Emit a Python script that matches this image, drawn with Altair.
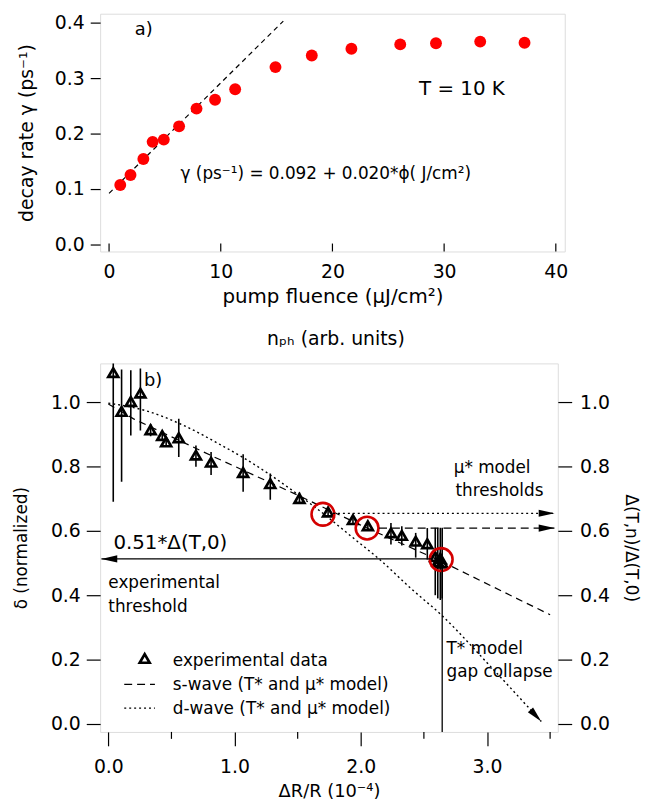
import altair as alt
import pandas as pd

FONT = "DejaVu Sans"

# ---------------- panel a : decay rate vs pump fluence ----------------
fluence = [1.0, 1.92, 3.07, 3.9, 4.9, 6.27, 7.83, 9.49, 11.29, 14.9, 18.15, 21.7, 26.07, 29.27, 33.23, 37.2]
decay_rate = [0.107, 0.125, 0.154, 0.185, 0.189, 0.213, 0.245, 0.261, 0.280, 0.320, 0.341, 0.353, 0.361, 0.363, 0.366, 0.364]
fit_fluence = [0.0, 15.6]
fit_rate = [0.092, 0.403]
a_x_ticks = [0, 10, 20, 30, 40]
a_y_ticks = [0.0, 0.1, 0.2, 0.3, 0.4]
a_text = ["a)", "T = 10 K", "γ (ps⁻¹) = 0.092 + 0.020*ϕ( J/cm²)"]
a_text_x = [2.3, 27.76, 6.4]
a_text_y = [0.3786, 0.2696, 0.118]
a_text_size = [18, 20, 17]

# ---------------- panel b : gap vs dR/R ----------------
dr = [0.039, 0.105, 0.178, 0.254, 0.335, 0.427, 0.458, 0.558, 0.694, 0.814, 1.068, 1.283,
      1.514, 1.741, 1.938, 2.056, 2.239, 2.325, 2.435, 2.527, 2.59, 2.61, 2.63, 2.645]
delta = [1.093, 0.972, 1.003, 1.029, 0.915, 0.897, 0.877, 0.890, 0.836, 0.814, 0.782, 0.747,
         0.701, 0.659, 0.635, 0.616, 0.594, 0.586, 0.568, 0.560, 0.52, 0.505, 0.515, 0.50]
err_top = [1.50, 1.103, 1.100, 1.106, 0.933, 0.91, 0.89, 0.949, 0.866, 0.846, 0.839, 0.779,
           0.72, 0.672, 0.648, 0.63, 0.625, 0.615, 0.594, 0.609, 0.61, 0.61, 0.61, 0.61]
err_bot = [0.691, 0.753, 0.897, 0.913, 0.895, 0.885, 0.865, 0.830, 0.800, 0.774, 0.722, 0.697,
           0.685, 0.648, 0.622, 0.60, 0.558, 0.555, 0.517, 0.511, 0.40, 0.39, 0.385, 0.39]
s_wave_x = [0.0, 0.2, 0.84, 1.47, 2.05, 2.64, 3.5]
s_wave_y = [0.995, 0.949, 0.830, 0.717, 0.609, 0.505, 0.339]
d_wave_x = [0.0, 0.3, 0.6, 0.89, 1.07, 1.3, 1.49, 1.70, 1.95, 2.15, 2.4, 2.645, 3.0, 3.43]
d_wave_y = [0.998, 0.974, 0.928, 0.868, 0.828, 0.770, 0.717, 0.655, 0.575, 0.511, 0.420, 0.336, 0.19, 0.007]
circle_x = [1.70, 2.05, 2.637]
circle_y = [0.652, 0.609, 0.511]
thr_x1 = [1.78, 2.145, 2.57]
thr_x2 = [3.535, 3.535, -0.055]
thr_y = [0.655, 0.609, 0.513]
thr_style = ["dotted", "dashed", "solid"]
collapse_x = [2.645]
collapse_y = [0.51]
head_x = [3.535, 3.535, -0.055, 3.43]
head_y = [0.655, 0.609, 0.513, 0.007]
head_angle = [0, 0, 180, 47]
b_x_ticks = [0, 1, 2, 3]
b_minor_ticks = [0.5, 1.5, 2.5, 3.5]
b_y_ticks = [0.0, 0.2, 0.4, 0.6, 0.8, 1.0]
b_text = ["b)", "0.51*Δ(T,0)", "experimental", "threshold", "μ* model", "thresholds",
          "T* model", "gap collapse", "experimental data", "s-wave (T* and μ* model)",
          "d-wave (T* and μ* model)"]
b_text_x = [0.283, 0.04, 0.0, 0.0, 2.736, 2.75, 2.679, 2.679, 0.511, 0.511, 0.511]
b_text_y = [1.0515, 0.5423, 0.424, 0.349, 0.779, 0.709, 0.218, 0.146, 0.180, 0.105, 0.030]
b_text_size = [18, 20, 17, 17, 17, 17, 17, 17, 17, 17, 17]
leg_marker_x = [0.288]
leg_marker_y = [0.203]
leg_line_x1 = [0.126, 0.126]
leg_line_x2 = [0.369, 0.369]
leg_line_y = [0.1225, 0.0485]
leg_line_style = ["dashed", "dotted"]

# ---------------- sizes ----------------
WA, HA = 469, 240
WB, HB = 462, 372

axis_common = dict(domain=False, grid=False, tickColor="black", labelColor="black",
                   titleColor="black", labelFont=FONT, titleFont=FONT,
                   titleFontWeight="normal", tickWidth=1.2)

# ================= panel a =================
xa_scale = alt.Scale(domain=[-0.8, 40.8], nice=False, zero=False)
ya_scale = alt.Scale(domain=[-0.013, 0.4164], nice=False, zero=False)

df_a = pd.DataFrame({"x": fluence, "y": decay_rate})
df_fit = pd.DataFrame({"x": fit_fluence, "y": fit_rate})
df_atick = pd.DataFrame({"x": a_x_ticks})
df_atext = pd.DataFrame({"x": a_text_x, "y": a_text_y, "t": a_text, "s": a_text_size})

pts_a = alt.Chart(df_a).mark_circle(size=144, color="#ff0000", opacity=1).encode(
    x=alt.X("x:Q", scale=xa_scale, axis=alt.Axis(
        values=a_x_ticks, format="d", ticks=False, tickSize=0, labelPadding=11,
        labelFontSize=19, title="pump fluence (μJ/cm²)", titleFontSize=20, titlePadding=6,
        **axis_common)),
    y=alt.Y("y:Q", scale=ya_scale, axis=alt.Axis(
        values=a_y_ticks, format=".1f", tickSize=10, labelPadding=6, labelFontSize=19,
        title="decay rate γ (ps⁻¹)", titleFontSize=19, titlePadding=18, **axis_common)),
)
fit_a = alt.Chart(df_fit).mark_line(color="black", strokeDash=[5, 4], strokeWidth=1.2).encode(
    x=alt.X("x:Q", scale=xa_scale, axis=None),
    y=alt.Y("y:Q", scale=ya_scale, axis=None),
)
ticks_a = alt.Chart(df_atick).mark_rule(color="black", strokeWidth=1.2).encode(
    x=alt.X("x:Q", scale=xa_scale, axis=None),
    y=alt.value(HA), y2=alt.value(HA - 8),
)
text_a = alt.Chart(df_atext).mark_text(align="left", baseline="alphabetic", font=FONT,
                                       color="black").encode(
    x=alt.X("x:Q", scale=xa_scale, axis=None),
    y=alt.Y("y:Q", scale=ya_scale, axis=None),
    text="t:N",
    size=alt.Size("s:Q", scale=None),
)
panel_a = alt.layer(fit_a, pts_a, ticks_a, text_a).resolve_axis(
    x="independent", y="independent").properties(width=WA, height=HA)

# ================= panel b =================
xb_scale = alt.Scale(domain=[-0.065, 3.561], nice=False, zero=False)
yb_scale = alt.Scale(domain=[-0.0256, 1.1216], nice=False, zero=False)


def XB(f="x"):
    return alt.X(f"{f}:Q", scale=xb_scale, axis=None)


def YB(f="y"):
    return alt.Y(f"{f}:Q", scale=yb_scale, axis=None)


dash_scale = alt.Scale(domain=["dotted", "dashed", "solid"], range=[[2, 3], [8, 5], [1, 0]])

df_b = pd.DataFrame({"x": dr, "y": delta, "top": err_top, "bot": err_bot})
df_s = pd.DataFrame({"x": s_wave_x, "y": s_wave_y})
df_d = pd.DataFrame({"x": d_wave_x, "y": d_wave_y})
df_c = pd.DataFrame({"x": circle_x, "y": circle_y})
df_thr = pd.DataFrame({"x": thr_x1, "x2": thr_x2, "y": thr_y, "st": thr_style})
df_col = pd.DataFrame({"x": collapse_x, "y": collapse_y})
df_head = pd.DataFrame({"x": head_x, "y": head_y, "a": head_angle})
df_minor = pd.DataFrame({"x": b_minor_ticks})
df_btext = pd.DataFrame({"x": b_text_x, "y": b_text_y, "t": b_text, "s": b_text_size})
df_legm = pd.DataFrame({"x": leg_marker_x, "y": leg_marker_y})
df_legl = pd.DataFrame({"x": leg_line_x1, "x2": leg_line_x2, "y": leg_line_y, "st": leg_line_style})

s_line = alt.Chart(df_s).mark_line(color="black", strokeDash=[7, 5], strokeWidth=1.2).encode(
    x=XB(), y=YB())
d_line = alt.Chart(df_d).mark_line(color="black", strokeDash=[2, 3], strokeWidth=1.4,
                                   interpolate="monotone").encode(x=XB(), y=YB())
errbars = alt.Chart(df_b).mark_rule(color="black", strokeWidth=1.6, clip=True).encode(
    x=XB(), y=YB("top"), y2="bot:Q")
tri = alt.Chart(df_b).mark_point(shape="triangle-up", size=100, filled=False, color="black",
                                 strokeWidth=2.7, opacity=1).encode(
    x=alt.X("x:Q", scale=xb_scale, axis=alt.Axis(
        values=b_x_ticks, format=".1f", tickSize=14, labelPadding=12, labelFontSize=19,
        title="ΔR/R (10⁻⁴)", titleFontSize=18, titlePadding=6, **axis_common)),
    y=alt.Y("y:Q", scale=yb_scale, axis=alt.Axis(
        values=b_y_ticks, format=".1f", tickSize=14, labelPadding=6, labelFontSize=19,
        title="δ (normalized)", titleFontSize=17, titlePadding=20, **axis_common)),
)
circles = alt.Chart(df_c).mark_point(shape="circle", size=529, filled=False, color="#d40000",
                                     strokeWidth=2.6, opacity=1).encode(x=XB(), y=YB())
thr = alt.Chart(df_thr).mark_rule(color="black", strokeWidth=1.3).encode(
    x=XB(), x2="x2:Q",
    y=alt.Y("y:Q", scale=yb_scale, axis=alt.Axis(
        orient="right", values=b_y_ticks, format=".1f", tickSize=14, labelPadding=8,
        labelFontSize=19, title="Δ(T,n)/Δ(T,0)", titleFontSize=17, titlePadding=12,
        **axis_common)),
    strokeDash=alt.StrokeDash("st:N", scale=dash_scale, legend=None),
)
collapse = alt.Chart(df_col).mark_rule(color="black", strokeWidth=1.3).encode(
    x=XB(), y=YB(), y2=alt.value(HB))
heads = alt.Chart(df_head).mark_point(shape="M0,0L-2,-0.45L-2,0.45Z", size=256, filled=True,
                                      color="black", opacity=1, strokeWidth=0).encode(
    x=XB(), y=YB(), angle=alt.Angle("a:Q", scale=None))
minor = alt.Chart(df_minor).mark_rule(color="black", strokeWidth=1.2).encode(
    x=XB(), y=alt.value(HB), y2=alt.value(HB + 7))
text_b = alt.Chart(df_btext).mark_text(align="left", baseline="alphabetic", font=FONT,
                                       color="black").encode(
    x=XB(), y=YB(), text="t:N", size=alt.Size("s:Q", scale=None))
leg_m = alt.Chart(df_legm).mark_point(shape="triangle-up", size=100, filled=False, color="black",
                                      strokeWidth=2.7, opacity=1).encode(x=XB(), y=YB())
leg_l = alt.Chart(df_legl).mark_rule(color="black", strokeWidth=1.2).encode(
    x=XB(), x2="x2:Q", y=YB(),
    strokeDash=alt.StrokeDash("st:N", scale=dash_scale, legend=None))

panel_b = alt.layer(
    s_line, d_line, errbars, tri, circles, thr, collapse, heads, minor, text_b, leg_m, leg_l
).resolve_axis(x="independent", y="independent").properties(
    width=WB, height=HB,
    title=alt.TitleParams("nₚₕ (arb. units)", font=FONT, fontSize=19, fontWeight="normal",
                          color="black", anchor="middle", frame="group", dx=7, offset=14),
)

chart = alt.vconcat(panel_a, panel_b, spacing=22).properties(
    padding={"left": 4, "top": 1, "right": 4, "bottom": 0}
).configure_view(stroke="black", strokeWidth=1.3).configure(font=FONT)

chart.save("out.html", embed_options={"renderer": "svg", "actions": False})
